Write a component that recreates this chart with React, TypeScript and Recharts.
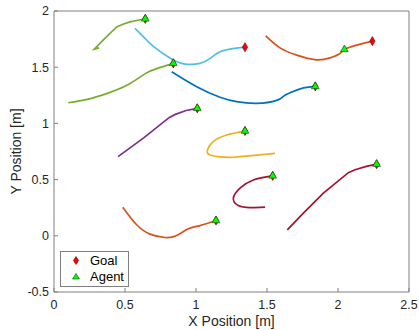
import { ScatterChart, Scatter, XAxis, YAxis, Symbols } from 'recharts'

// trajectories (x, y in metres)
const greenUpper = [
  { x: 0.317, y: 1.672 }, { x: 0.284, y: 1.661 }, { x: 0.36, y: 1.758 },
  { x: 0.441, y: 1.859 }, { x: 0.49, y: 1.885 }, { x: 0.535, y: 1.903 },
  { x: 0.59, y: 1.918 }, { x: 0.643, y: 1.93 },
]
const lightBlue = [
  { x: 0.57, y: 1.845 }, { x: 0.63, y: 1.77 }, { x: 0.704, y: 1.681 },
  { x: 0.822, y: 1.578 }, { x: 0.923, y: 1.528 }, { x: 1.028, y: 1.534 },
  { x: 1.099, y: 1.578 }, { x: 1.169, y: 1.637 }, { x: 1.26, y: 1.665 },
  { x: 1.345, y: 1.678 },
]
const greenLower = [
  { x: 0.101, y: 1.184 }, { x: 0.235, y: 1.214 }, { x: 0.375, y: 1.267 },
  { x: 0.516, y: 1.341 }, { x: 0.646, y: 1.445 }, { x: 0.728, y: 1.489 },
  { x: 0.84, y: 1.534 },
]
const blue = [
  { x: 0.829, y: 1.459 }, { x: 1.005, y: 1.326 }, { x: 1.169, y: 1.232 },
  { x: 1.286, y: 1.193 }, { x: 1.427, y: 1.178 }, { x: 1.568, y: 1.205 },
  { x: 1.62, y: 1.245 }, { x: 1.662, y: 1.272 }, { x: 1.74, y: 1.31 },
  { x: 1.84, y: 1.329 },
]
const orangeTop = [
  { x: 1.491, y: 1.779 }, { x: 1.592, y: 1.672 }, { x: 1.709, y: 1.607 },
  { x: 1.845, y: 1.566 }, { x: 1.944, y: 1.583 }, { x: 2.014, y: 1.622 },
  { x: 2.045, y: 1.658 }, { x: 2.131, y: 1.696 }, { x: 2.242, y: 1.732 },
]
const purple = [
  { x: 0.451, y: 0.704 }, { x: 0.634, y: 0.873 }, { x: 0.81, y: 1.051 },
  { x: 0.85, y: 1.078 }, { x: 0.93, y: 1.115 }, { x: 1.009, y: 1.134 },
]
const yellow = [
  { x: 1.556, y: 0.734 }, { x: 1.427, y: 0.717 }, { x: 1.263, y: 0.699 },
  { x: 1.169, y: 0.702 }, { x: 1.099, y: 0.719 }, { x: 1.08, y: 0.758 },
  { x: 1.122, y: 0.838 }, { x: 1.216, y: 0.897 }, { x: 1.345, y: 0.932 },
]
const redMid = [
  { x: 1.486, y: 0.255 }, { x: 1.38, y: 0.251 }, { x: 1.298, y: 0.269 },
  { x: 1.263, y: 0.335 }, { x: 1.31, y: 0.424 }, { x: 1.404, y: 0.497 },
  { x: 1.54, y: 0.533 },
]
const redRight = [
  { x: 1.643, y: 0.053 }, { x: 1.756, y: 0.202 }, { x: 1.897, y: 0.379 },
  { x: 2.073, y: 0.562 }, { x: 2.12, y: 0.588 }, { x: 2.2, y: 0.617 },
  { x: 2.272, y: 0.637 },
]
const orangeBottom = [
  { x: 0.484, y: 0.255 }, { x: 0.582, y: 0.098 }, { x: 0.676, y: 0.015 },
  { x: 0.782, y: -0.015 }, { x: 0.864, y: 0.003 }, { x: 0.946, y: 0.062 },
  { x: 1.028, y: 0.091 }, { x: 1.141, y: 0.136 },
]

const goals = [
  { x: 1.345, y: 1.678 }, { x: 2.242, y: 1.732 }, { x: 0.643, y: 1.93 },
  { x: 0.84, y: 1.534 }, { x: 1.009, y: 1.134 }, { x: 1.345, y: 0.932 },
  { x: 1.84, y: 1.329 }, { x: 1.54, y: 0.533 }, { x: 2.272, y: 0.637 },
  { x: 1.141, y: 0.136 },
]
const agents = [
  { x: 0.643, y: 1.93 }, { x: 0.84, y: 1.534 }, { x: 1.009, y: 1.134 },
  { x: 1.345, y: 0.932 }, { x: 1.84, y: 1.329 }, { x: 2.045, y: 1.658 },
  { x: 1.54, y: 0.533 }, { x: 2.272, y: 0.637 }, { x: 1.141, y: 0.136 },
]

const xTicks = [0, 0.5, 1, 1.5, 2, 2.5]
const yTicks = [-0.5, 0, 0.5, 1, 1.5, 2]

const paths = [
  { data: greenUpper, color: '#77AC30', curve: 'linear' },
  { data: lightBlue, color: '#4DBEEE', curve: 'natural' },
  { data: greenLower, color: '#77AC30', curve: 'natural' },
  { data: blue, color: '#0072BD', curve: 'natural' },
  { data: orangeTop, color: '#D95319', curve: 'natural' },
  { data: purple, color: '#7E2F8E', curve: 'linear' },
  { data: yellow, color: '#EDB120', curve: 'natural' },
  { data: redMid, color: '#A2142F', curve: 'natural' },
  { data: redRight, color: '#A2142F', curve: 'linear' },
  { data: orangeBottom, color: '#D95319', curve: 'natural' },
]

const FONT = '"Liberation Sans", Arial, Helvetica, sans-serif'
const AXIS = '#808080'
const TEXT = '#262626'

const noDot = () => <g />

const goalShape = (p: any) => (
  <Symbols cx={p.cx} cy={p.cy} type="diamond" size={24} fill="#FF0000" stroke="#5a0000" strokeWidth={0.6} />
)
const agentShape = (p: any) => (
  <Symbols cx={p.cx} cy={p.cy} type="triangle" size={26} fill="#00FF00" stroke="#1a3a1a" strokeWidth={0.6} />
)

function XLabel(props: any) {
  const vb = props.viewBox || { x: 54, y: 292, width: 355, height: 30 }
  return (
    <text x={vb.x + vb.width / 2} y={vb.y + 29} textAnchor="middle" dominantBaseline="central"
      fontSize={14} fontFamily={FONT} fill={TEXT}>
      X Position [m]
    </text>
  )
}

function YLabel(props: any) {
  const vb = props.viewBox || { x: 10, y: 11, width: 44, height: 281 }
  const cx = vb.x + 6
  const cy = vb.y + vb.height / 2
  return (
    <text x={cx} y={cy} transform={`rotate(-90, ${cx}, ${cy})`} textAnchor="middle"
      dominantBaseline="central" fontSize={14} fontFamily={FONT} fill={TEXT}>
      Y Position [m]
    </text>
  )
}

export default function App() {
  const tickStyle = { fontSize: 12.5, fontFamily: FONT, fill: TEXT }
  return (
    <div style={{ position: 'absolute', left: 0, top: 0, width: 419, height: 330, background: '#fff' }}>
      <ScatterChart width={419} height={330} margin={{ top: 10, right: 9, bottom: 8, left: 10 }}>
        <XAxis xAxisId="b" type="number" dataKey="x" domain={[0, 2.5]} ticks={xTicks}
          allowDataOverflow height={30} stroke={AXIS} tickSize={-4} tickMargin={12}
          tick={tickStyle} label={XLabel} />
        <XAxis xAxisId="t" orientation="top" type="number" dataKey="x" domain={[0, 2.5]}
          ticks={xTicks} allowDataOverflow height={1} stroke={AXIS} tickSize={-4} tick={false} />
        <YAxis yAxisId="l" type="number" dataKey="y" domain={[-0.5, 2]} ticks={yTicks}
          allowDataOverflow width={44} stroke={AXIS} tickSize={-4} tickMargin={9}
          tick={tickStyle} label={YLabel} />
        <YAxis yAxisId="r" orientation="right" type="number" dataKey="y" domain={[-0.5, 2]}
          ticks={yTicks} allowDataOverflow width={1} stroke={AXIS} tickSize={-4} tick={false} />
        {paths.map((p, i) => (
          <Scatter key={i} xAxisId="b" yAxisId="l" data={p.data} fill={p.color}
            line={{ stroke: p.color, strokeWidth: 1.7 }} lineJointType={p.curve as any}
            shape={noDot} isAnimationActive={false} />
        ))}
        <Scatter xAxisId="b" yAxisId="l" data={goals} shape={goalShape} fill="#FF0000"
          legendType="diamond" isAnimationActive={false} />
        <Scatter xAxisId="b" yAxisId="l" data={agents} shape={agentShape} fill="#00FF00"
          legendType="triangle" isAnimationActive={false} />
      </ScatterChart>
      <div style={{
        position: 'absolute', left: 60, top: 251, width: 67, height: 34,
        border: `1px solid ${AXIS}`, background: '#fff', fontFamily: FONT, fontSize: 13, color: '#000',
      }}>
        <svg width={30} height={34} style={{ position: 'absolute', left: 0, top: 0 }}>
          <path d="M15,4.5 L17.6,8.5 L15,12.5 L12.4,8.5 Z" fill="#FF0000" stroke="#5a0000" strokeWidth={0.6} />
          <path d="M15,21.5 L18.5,27 L11.5,27 Z" fill="#00FF00" stroke="#1a3a1a" strokeWidth={0.6} />
        </svg>
        <div style={{ position: 'absolute', left: 29, top: 1, lineHeight: '15px' }}>Goal</div>
        <div style={{ position: 'absolute', left: 29, top: 17, lineHeight: '15px' }}>Agent</div>
      </div>
    </div>
  )
}
